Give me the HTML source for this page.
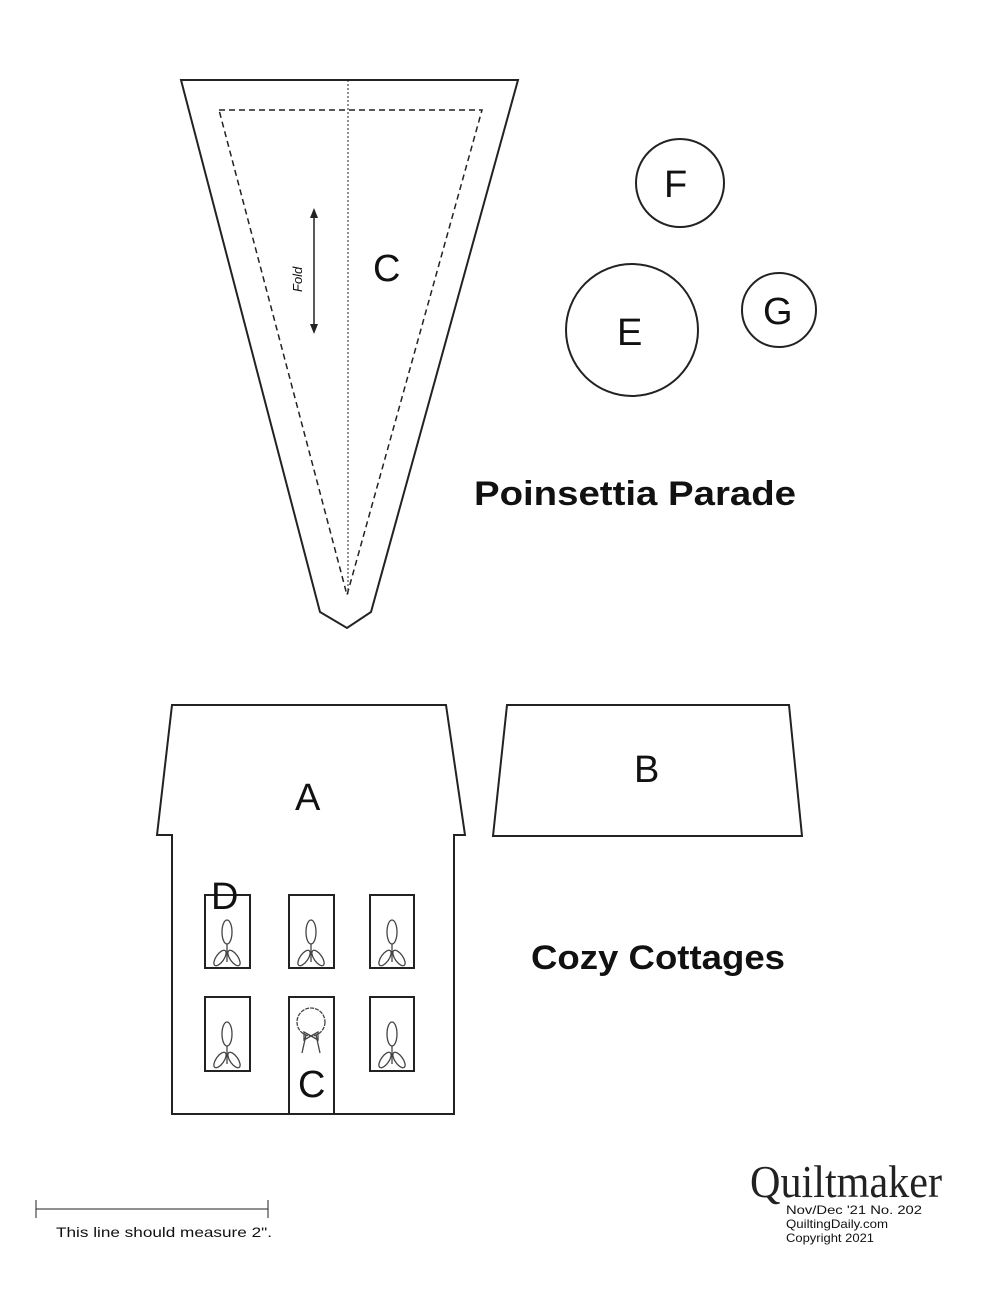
<!DOCTYPE html>
<html><head><style>body{margin:0;background:#fff}svg{display:block}</style></head><body>
<svg width="997" height="1289" viewBox="0 0 997 1289" xmlns="http://www.w3.org/2000/svg" font-family="Liberation Sans, sans-serif">
<g fill="none" stroke="#222" stroke-width="2">
<polygon points="181,80 518,80 371,612 347,628 320,612"/>
<polygon points="219,110 482,110 347,595" stroke-dasharray="6,4" stroke-width="1.5"/>
<line x1="348" y1="80" x2="348" y2="595" stroke-dasharray="2,2" stroke-width="1"/>
<line x1="314" y1="214" x2="314" y2="328" stroke-width="1.5"/>
<circle cx="680" cy="183" r="44"/>
<circle cx="632" cy="330" r="66"/>
<circle cx="779" cy="310" r="37"/>
<polygon points="172,705 446,705 465,835 454,835 454,1114 172,1114 172,835 157,835"/>
<polygon points="507,705 789,705 802,836 493,836"/>
<rect x="205" y="895" width="45" height="73"/><rect x="289" y="895" width="45" height="73"/><rect x="370" y="895" width="44" height="73"/>
<rect x="205" y="997" width="45" height="74"/><rect x="289" y="997" width="45" height="117"/><rect x="370" y="997" width="44" height="74"/>
<line x1="36" y1="1200" x2="36" y2="1218" stroke-width="1"/><line x1="268" y1="1200" x2="268" y2="1218" stroke-width="1"/><line x1="36" y1="1209" x2="268" y2="1209" stroke-width="1"/>
</g>
<polygon points="314,208 310,218 318,218" fill="#222"/><polygon points="314,334 310,324 318,324" fill="#222"/>
<g fill="none" stroke="#444" stroke-width="1.3">
<g id="fl"><ellipse cx="227" cy="932" rx="5" ry="12"/><line x1="227" y1="944" x2="227" y2="962"/><ellipse cx="220" cy="958" rx="4" ry="9" transform="rotate(35 220 958)"/><ellipse cx="234" cy="958" rx="4" ry="9" transform="rotate(-35 234 958)"/></g>
<use href="#fl" x="84"/><use href="#fl" x="165"/><use href="#fl" y="102"/><use href="#fl" x="165" y="102"/>
<circle cx="311" cy="1022" r="14" stroke-dasharray="4,1"/><path d="M306 1035 L302 1053 M316 1035 L320 1053 M311 1036 l-7 -4 0 8z M311 1036 l7 -4 0 8z"/>
</g>
<g fill="#111" font-size="38">
<text x="664" y="197">F</text><text x="617" y="345">E</text><text x="763" y="324">G</text><text x="373" y="281">C</text>
<text x="295" y="810">A</text><text x="634" y="782">B</text><text x="211" y="909">D</text><text x="298" y="1097">C</text>
</g>
<text x="302" y="292" font-size="13" font-style="italic" transform="rotate(-90 302 292)" fill="#111">Fold</text>
<text x="474" y="505" font-size="34" font-weight="bold" fill="#111" textLength="322" lengthAdjust="spacingAndGlyphs">Poinsettia Parade</text>
<text x="531" y="969" font-size="34" font-weight="bold" fill="#111" textLength="254" lengthAdjust="spacingAndGlyphs">Cozy Cottages</text>
<text x="56" y="1237" font-size="14" fill="#111" textLength="216" lengthAdjust="spacingAndGlyphs">This line should measure 2".</text>
<text x="750" y="1197" font-family="Liberation Serif, serif" font-size="46" fill="#222" textLength="192" lengthAdjust="spacingAndGlyphs">Quiltmaker</text>
<text x="786" y="1214" font-size="12" fill="#111" textLength="136" lengthAdjust="spacingAndGlyphs">Nov/Dec '21 No. 202</text>
<text x="786" y="1228" font-size="12" fill="#111" textLength="102" lengthAdjust="spacingAndGlyphs">QuiltingDaily.com</text>
<text x="786" y="1242" font-size="12" fill="#111" textLength="88" lengthAdjust="spacingAndGlyphs">Copyright 2021</text>
</svg>
</body></html>
